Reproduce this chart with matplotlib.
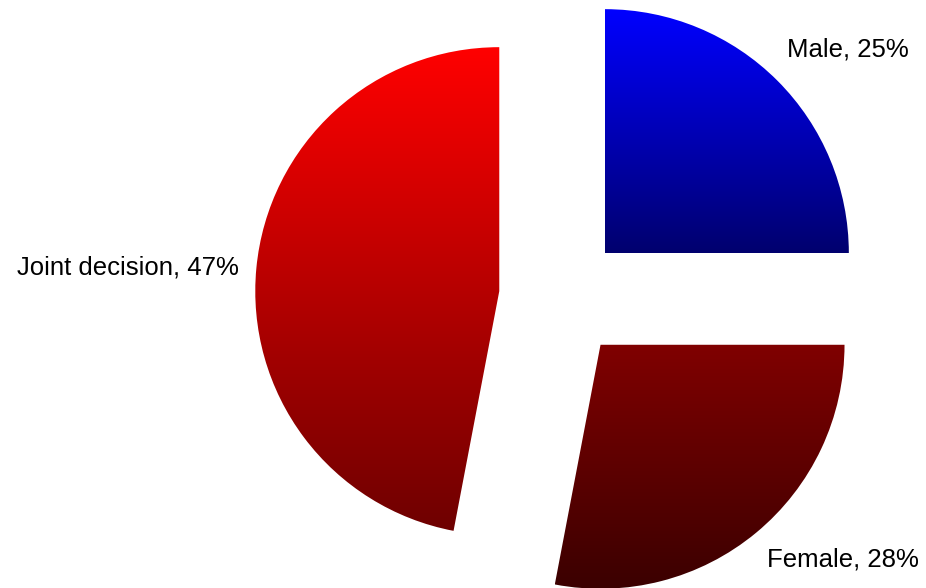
import numpy as np
import matplotlib
matplotlib.use("Agg")
import matplotlib.pyplot as plt
from matplotlib.colors import LinearSegmentedColormap

plt.rcParams['font.family'] = ['Liberation Sans', 'DejaVu Sans']

categories = ["Male", "Female", "Joint decision"]
shares = [25, 28, 47]
# vertical gradient endpoints (top, bottom) for each slice
top_colors = ["#0000ff", "#800000", "#ff0000"]
bottom_colors = ["#00006e", "#3a0000", "#6e0000"]

W, H = 926, 588
fig = plt.figure(figsize=(W / 100, H / 100), dpi=100)
ax = fig.add_axes([0, 0, 1, 1])

radius = 244
center = (561, 291)
# explode offsets are in data units
explode = [62] * len(shares)

wedges, _ = ax.pie(shares, startangle=90, counterclock=False, radius=radius,
                   center=center, explode=explode,
                   wedgeprops=dict(linewidth=0, facecolor="none"))

ax.set_xlim(0, W)
ax.set_ylim(0, H)
ax.set_aspect("equal")
ax.axis("off")

grad = np.linspace(1, 0, 256).reshape(-1, 1)
for w, c0, c1 in zip(wedges, top_colors, bottom_colors):
    verts = w.get_path().vertices
    x0, y0 = verts.min(axis=0)
    x1, y1 = verts.max(axis=0)
    cmap = LinearSegmentedColormap.from_list("g", [c1, c0])
    im = ax.imshow(grad, cmap=cmap, extent=(x0, x1, y0, y1), origin="upper",
                   aspect="auto", interpolation="bilinear", zorder=2)
    im.set_clip_path(w)

label_pos = [(848, 538), (843, 28), (128, 320)]
for name, val, (lx, ly) in zip(categories, shares, label_pos):
    ax.text(lx, ly, f"{name}, {val}%", ha="center", va="center",
            fontsize=18.5, color="black", zorder=3)

ax.set_xlim(0, W)
ax.set_ylim(0, H)
fig.savefig("out.png", dpi=100)
